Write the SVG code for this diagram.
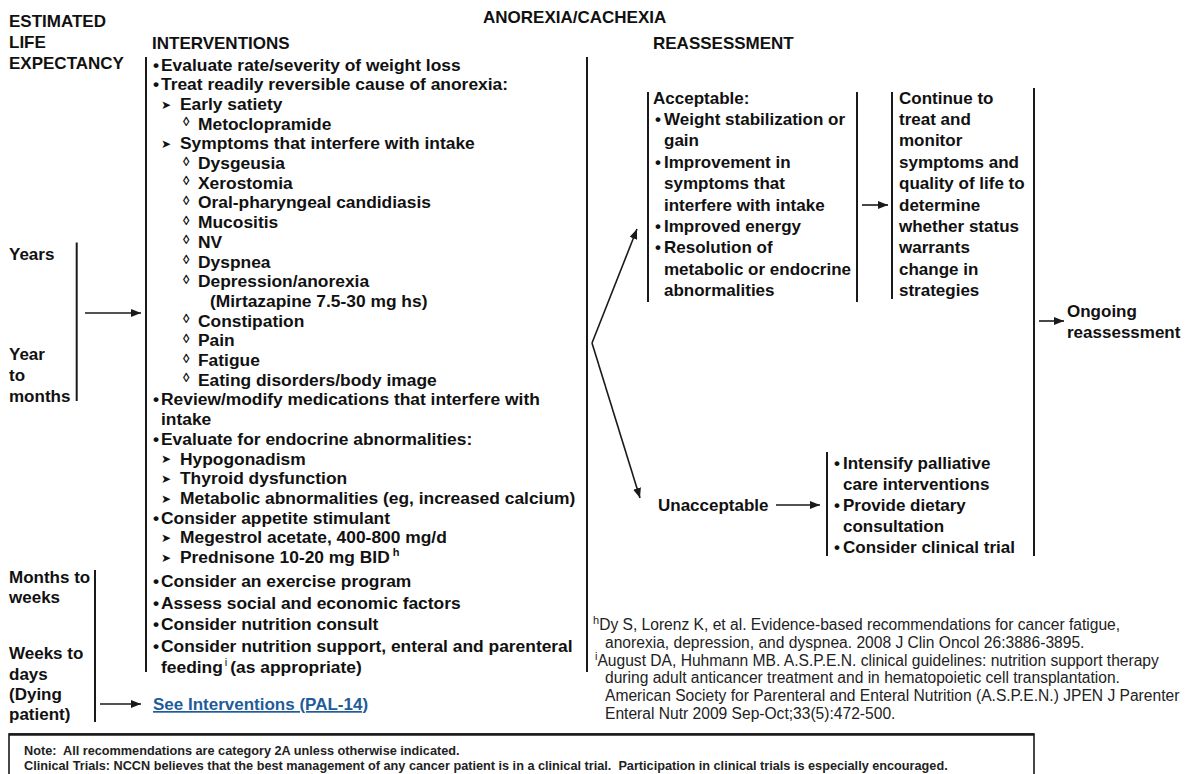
<svg xmlns="http://www.w3.org/2000/svg" width="1191" height="774" viewBox="0 0 1191 774">
<style>
text{font-family:"Liberation Sans",Arial,sans-serif;fill:#111}
.b{font-weight:bold;font-size:17px}
.i{font-weight:bold;font-size:17.4px}
.fn{font-size:15.6px;fill:#222}
.nt{font-weight:bold;font-size:12.7px;fill:#222}
.sup{font-size:11px}
.ah{font-family:"DejaVu Sans",sans-serif;font-size:12px}
.dm{font-size:13px;font-weight:bold}
.ln{stroke:#1a1a1a;stroke-width:2;fill:none}
.ar{stroke:#1a1a1a;stroke-width:1.6;fill:none;marker-end:url(#head)}
.link{fill:#1f5c9a;text-decoration:underline}
</style>
<defs>
<marker id="head" markerUnits="userSpaceOnUse" markerWidth="10" markerHeight="8" refX="10" refY="4" orient="auto">
<path d="M0,0 L10,4 L0,8 z" fill="#1a1a1a"/>
</marker>
</defs>
<rect width="1191" height="774" fill="#fff"/>

<g id="headers">
<text x="483" y="23" class="b">ANOREXIA/CACHEXIA</text>
<text x="9" y="27" class="b">ESTIMATED</text>
<text x="9" y="48" class="b">LIFE</text>
<text x="9" y="69" class="b">EXPECTANCY</text>
<text x="152" y="49" class="b">INTERVENTIONS</text>
<text x="653" y="49" class="b">REASSESSMENT</text>
</g>

<g id="life-expectancy">
<text x="9" y="259.5" class="b">Years</text>
<text x="9" y="360" class="b">Year</text>
<text x="9" y="380.5" class="b">to</text>
<text x="9" y="401.5" class="b">months</text>
<text x="9" y="582.5" class="b">Months to</text>
<text x="9" y="603" class="b">weeks</text>
<text x="9" y="659" class="b">Weeks to</text>
<text x="9" y="680" class="b">days</text>
<text x="9" y="700" class="b">(Dying</text>
<text x="9" y="720" class="b">patient)</text>
</g>

<g id="interventions">
<text x="153" y="70.5" class="i">•</text><text x="161" y="70.5" class="i">Evaluate rate/severity of weight loss</text>
<text x="153" y="90.2" class="i">•</text><text x="161" y="90.2" class="i">Treat readily reversible cause of anorexia:</text>
<text x="161" y="108.8" class="ah">➤</text><text x="180" y="109.9" class="i">Early satiety</text>
<text x="183" y="126.1" class="dm">◊</text><text x="198" y="129.6" class="i">Metoclopramide</text>
<text x="161" y="148.2" class="ah">➤</text><text x="180" y="149.3" class="i">Symptoms that interfere with intake</text>
<text x="183" y="165.5" class="dm">◊</text><text x="198" y="169" class="i">Dysgeusia</text>
<text x="183" y="185.2" class="dm">◊</text><text x="198" y="188.7" class="i">Xerostomia</text>
<text x="183" y="204.9" class="dm">◊</text><text x="198" y="208.4" class="i">Oral-pharyngeal candidiasis</text>
<text x="183" y="224.6" class="dm">◊</text><text x="198" y="228.1" class="i">Mucositis</text>
<text x="183" y="244.3" class="dm">◊</text><text x="198" y="247.8" class="i">NV</text>
<text x="183" y="264" class="dm">◊</text><text x="198" y="267.5" class="i">Dyspnea</text>
<text x="183" y="283.7" class="dm">◊</text><text x="198" y="287.2" class="i">Depression/anorexia</text>
<text x="210" y="306.9" class="i">(Mirtazapine 7.5-30 mg hs)</text>
<text x="183" y="323.1" class="dm">◊</text><text x="198" y="326.6" class="i">Constipation</text>
<text x="183" y="342.8" class="dm">◊</text><text x="198" y="346.3" class="i">Pain</text>
<text x="183" y="362.5" class="dm">◊</text><text x="198" y="366" class="i">Fatigue</text>
<text x="183" y="382.2" class="dm">◊</text><text x="198" y="385.7" class="i">Eating disorders/body image</text>
<text x="153" y="405.4" class="i">•</text><text x="161" y="405.4" class="i">Review/modify medications that interfere with</text>
<text x="161" y="425.1" class="i">intake</text>
<text x="153" y="444.8" class="i">•</text><text x="161" y="444.8" class="i">Evaluate for endocrine abnormalities:</text>
<text x="161" y="463.4" class="ah">➤</text><text x="180" y="464.5" class="i">Hypogonadism</text>
<text x="161" y="483.1" class="ah">➤</text><text x="180" y="484.2" class="i">Thyroid dysfunction</text>
<text x="161" y="502.8" class="ah">➤</text><text x="180" y="503.9" class="i">Metabolic abnormalities (eg, increased calcium)</text>
<text x="153" y="523.6" class="i">•</text><text x="161" y="523.6" class="i">Consider appetite stimulant</text>
<text x="161" y="542.2" class="ah">➤</text><text x="180" y="543.3" class="i">Megestrol acetate, 400-800 mg/d</text>
<text x="161" y="561.9" class="ah">➤</text><text x="180" y="563" class="i">Prednisone 10-20 mg BID<tspan dx="3" dy="-7" class="sup">h</tspan></text>
<text x="153" y="587" class="i">•</text><text x="161" y="587" class="i">Consider an exercise program</text>
<text x="153" y="608.5" class="i">•</text><text x="161" y="608.5" class="i">Assess social and economic factors</text>
<text x="153" y="630" class="i">•</text><text x="161" y="630" class="i">Consider nutrition consult</text>
<text x="153" y="651.5" class="i">•</text><text x="161" y="651.5" class="i">Consider nutrition support, enteral and parenteral</text>
<text x="161" y="672.5" class="i">feeding<tspan dx="2" dy="-7" class="sup" font-weight="normal">i</tspan><tspan dx="3" dy="7">(as appropriate)</tspan></text>
</g>

<g id="see-pal14">
<text x="153" y="710" class="b link">See Interventions (PAL-14)</text>
</g>

<g id="acceptable">
<text x="653" y="103.5" class="b">Acceptable:</text>
<text x="655" y="124.9" class="b">•</text><text x="664" y="124.9" class="b">Weight stabilization or</text>
<text x="664" y="146.3" class="b">gain</text>
<text x="655" y="167.7" class="b">•</text><text x="664" y="167.7" class="b">Improvement in</text>
<text x="664" y="189.1" class="b">symptoms that</text>
<text x="664" y="210.5" class="b">interfere with intake</text>
<text x="655" y="231.9" class="b">•</text><text x="664" y="231.9" class="b">Improved energy</text>
<text x="655" y="253.3" class="b">•</text><text x="664" y="253.3" class="b">Resolution of</text>
<text x="664" y="274.7" class="b">metabolic or endocrine</text>
<text x="664" y="296.1" class="b">abnormalities</text>
</g>

<g id="continue">
<text x="899" y="103.5" class="b">Continue to</text>
<text x="899" y="124.9" class="b">treat and</text>
<text x="899" y="146.3" class="b">monitor</text>
<text x="899" y="167.7" class="b">symptoms and</text>
<text x="899" y="189.1" class="b">quality of life to</text>
<text x="899" y="210.5" class="b">determine</text>
<text x="899" y="231.9" class="b">whether status</text>
<text x="899" y="253.3" class="b">warrants</text>
<text x="899" y="274.7" class="b">change in</text>
<text x="899" y="296.1" class="b">strategies</text>
</g>

<g id="unacceptable">
<text x="658" y="511" class="b">Unacceptable</text>
</g>

<g id="unacceptable-actions">
<text x="834" y="469" class="b">•</text><text x="843" y="469" class="b">Intensify palliative</text>
<text x="843" y="490" class="b">care interventions</text>
<text x="834" y="511" class="b">•</text><text x="843" y="511" class="b">Provide dietary</text>
<text x="843" y="532" class="b">consultation</text>
<text x="834" y="553" class="b">•</text><text x="843" y="553" class="b">Consider clinical trial</text>
</g>

<g id="ongoing">
<text x="1067" y="317" class="b">Ongoing</text>
<text x="1067" y="337.5" class="b">reassessment</text>
</g>

<g id="connectors">
<line class="ln" x1="76.7" y1="242.5" x2="76.7" y2="401"/>
<line class="ln" x1="95" y1="570" x2="95" y2="722"/>
<line class="ln" x1="146" y1="57" x2="146" y2="672"/>
<line class="ln" x1="587" y1="57" x2="587" y2="672"/>
<line class="ln" x1="648" y1="92" x2="648" y2="302"/>
<line class="ln" x1="857" y1="92" x2="857" y2="302"/>
<line class="ln" x1="892" y1="92" x2="892" y2="299"/>
<line class="ln" x1="1034" y1="88" x2="1034" y2="556"/>
<line class="ln" x1="827" y1="452" x2="827" y2="556"/>
<line class="ar" x1="85" y1="313" x2="141" y2="313"/>
<line class="ar" x1="100" y1="704" x2="141" y2="704"/>
<line class="ar" x1="592" y1="343" x2="637" y2="229"/>
<line class="ar" x1="592" y1="343" x2="640" y2="498"/>
<line class="ar" x1="862" y1="205" x2="888" y2="205"/>
<line class="ar" x1="776" y1="505" x2="820" y2="505"/>
<line class="ar" x1="1039" y1="321" x2="1064" y2="321"/>
</g>

<g id="footnotes">
<text x="593" y="630" class="fn"><tspan font-size="11" dy="-6">h</tspan><tspan dy="6">Dy S, Lorenz K, et al. Evidence-based recommendations for cancer fatigue,</tspan></text>
<text x="605" y="647.8" class="fn">anorexia, depression, and dyspnea. 2008 J Clin Oncol 26:3886-3895.</text>
<text x="595" y="665.6" class="fn"><tspan font-size="11" dy="-6">i</tspan><tspan dy="6">August DA, Huhmann MB. A.S.P.E.N. clinical guidelines: nutrition support therapy</tspan></text>
<text x="605" y="683.4" class="fn">during adult anticancer treatment and in hematopoietic cell transplantation.</text>
<text x="605" y="701.2" class="fn">American Society for Parenteral and Enteral Nutrition (A.S.P.E.N.) JPEN J Parenter</text>
<text x="605" y="719" class="fn">Enteral Nutr 2009 Sep-Oct;33(5):472-500.</text>
</g>

<g id="note">
<rect x="9" y="734" width="1025" height="60" fill="none" stroke="#1a1a1a" stroke-width="1.6"/>
<line x1="9" y1="734.5" x2="1034" y2="734.5" stroke="#1a1a1a" stroke-width="2.5"/>
<text x="24" y="755" class="nt">Note:&#160; All recommendations are category 2A unless otherwise indicated.</text>
<text x="24" y="770" class="nt">Clinical Trials: NCCN believes that the best management of any cancer patient is in a clinical trial.&#160; Participation in clinical trials is especially encouraged.</text>
</g>
</svg>
